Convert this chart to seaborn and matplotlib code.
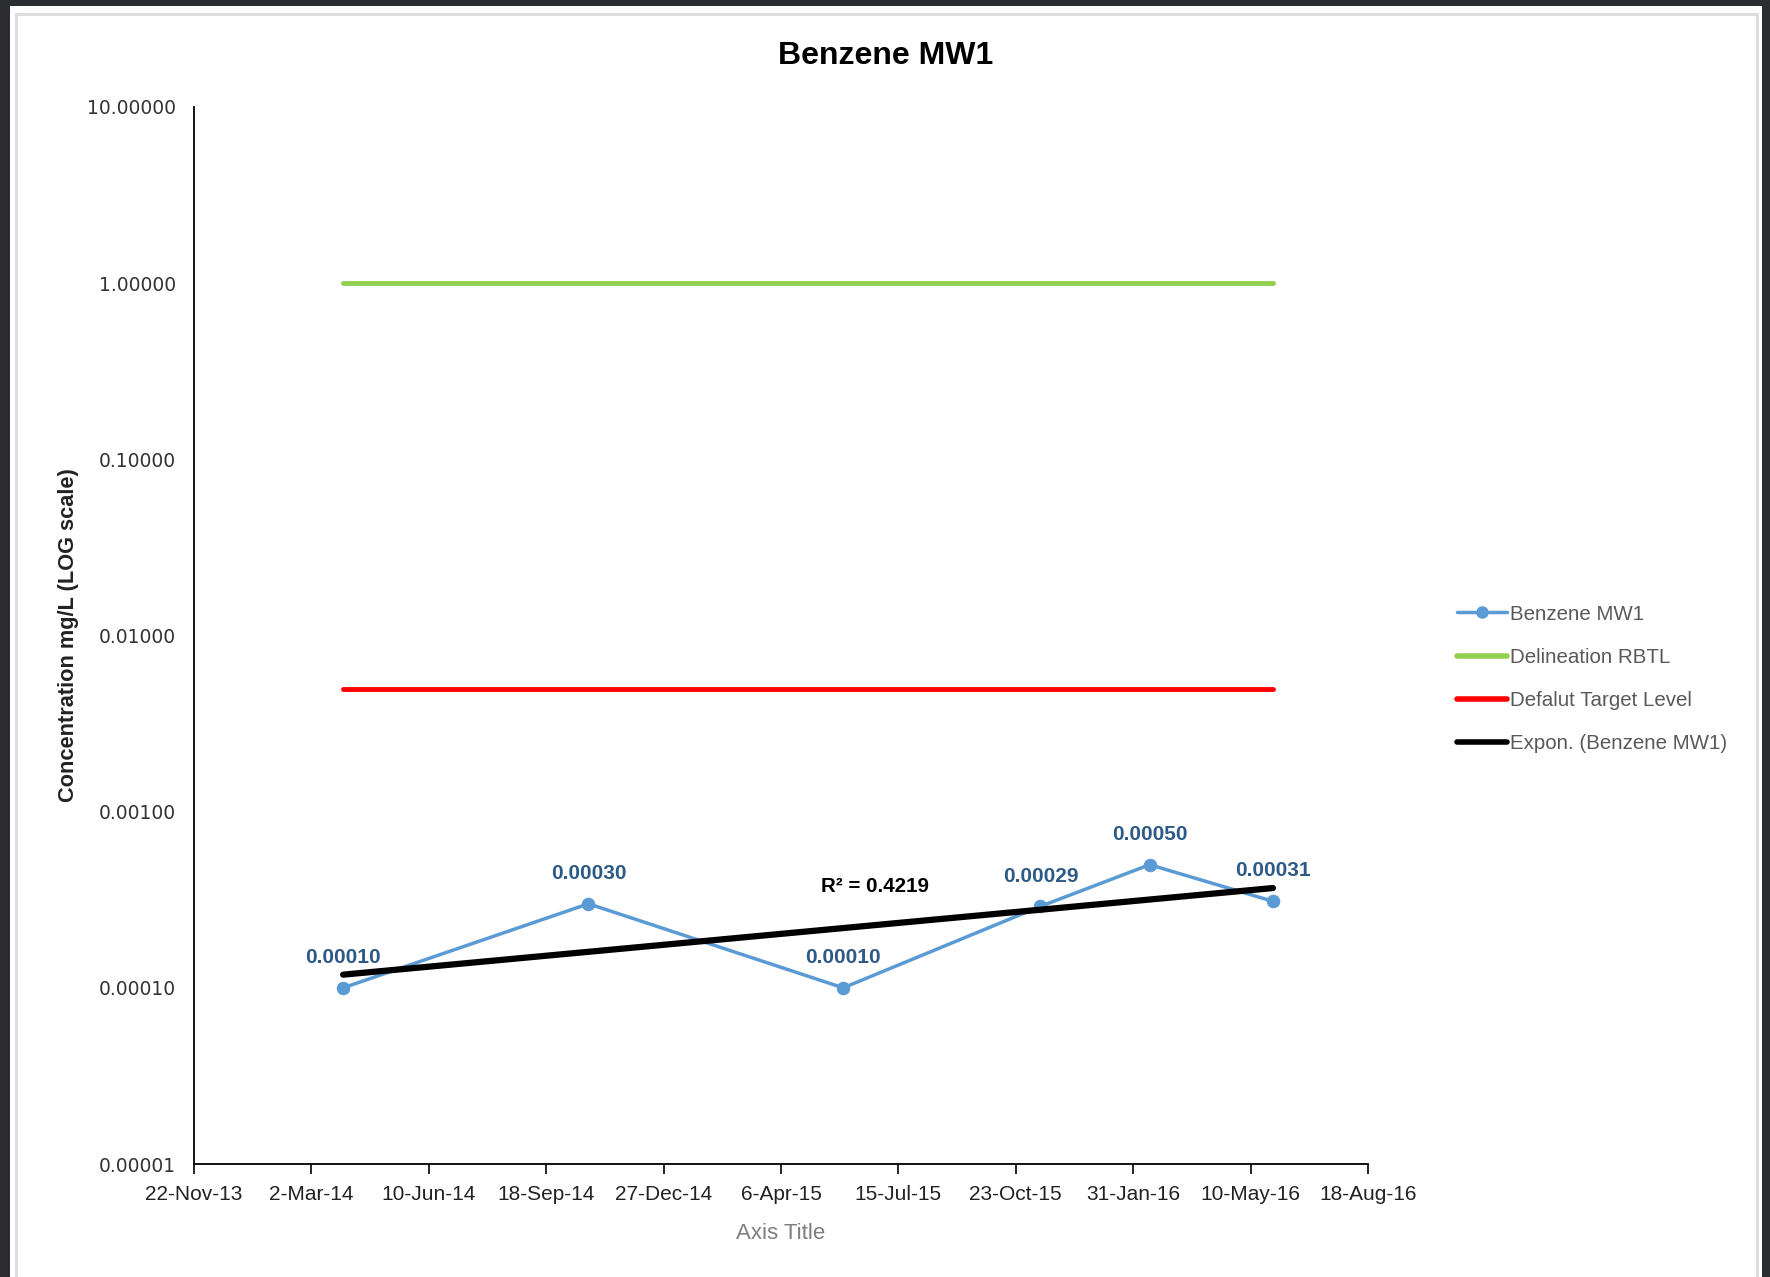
import matplotlib
matplotlib.use("Agg")
import matplotlib.pyplot as plt
import matplotlib.dates as mdates
from matplotlib import font_manager
from matplotlib.lines import Line2D
from matplotlib.patches import Rectangle
from matplotlib.ticker import FixedLocator, FuncFormatter, NullLocator
import seaborn as sns
import numpy as np
import pandas as pd

# data
sample_dates = ["2014-03-29", "2014-10-24", "2015-05-29", "2015-11-13", "2016-02-14", "2016-05-29"]
benzene = [0.00010, 0.00030, 0.00010, 0.00029, 0.00050, 0.00031]
delineation_rbtl = 1.0
default_target = 0.005
r2_label = "R² = 0.4219"
series_names = ["Benzene MW1", "Delineation RBTL", "Defalut Target Level", "Expon. (Benzene MW1)"]
y_ticks = [0.00001, 0.0001, 0.001, 0.01, 0.1, 1.0, 10.0]
x_start, x_end, x_step = "2013-11-22", "2016-08-18", 100

sns.set_theme(style="white")
installed = {f.name for f in font_manager.fontManager.ttflist}
narrow = "Liberation Sans Narrow" if "Liberation Sans Narrow" in installed else "Liberation Sans"
plt.rcParams["font.family"] = [narrow, "DejaVu Sans"]

df = pd.DataFrame({"date": pd.to_datetime(sample_dates), "value": benzene})

# exponential trendline, same as Excel (least squares on ln y)
xnum = mdates.date2num(df["date"])
b, a = np.polyfit(xnum, np.log(df["value"]), 1)
trend = pd.DataFrame({"date": df["date"].iloc[[0, -1]].values})
trend["value"] = np.exp(a + b * mdates.date2num(trend["date"]))

levels = pd.DataFrame({"date": df["date"].iloc[[0, -1]].values,
                       "rbtl": [delineation_rbtl] * 2,
                       "target": [default_target] * 2})

blue = "#5B9BD5"
green = "#92D050"
red = "#FF0000"
label_col = "#2E5A87"

fig = plt.figure(figsize=(17.7, 12.77), dpi=100, facecolor="#2b2d31")
fig.patches.append(Rectangle((10 / 1770, 0), 1752 / 1770, 1 - 6 / 1277, transform=fig.transFigure,
                             facecolor="white", edgecolor="none", zorder=-3))
fig.patches.append(Rectangle((16 / 1770, -0.01), 1741 / 1770, 1.01 - 14 / 1277, transform=fig.transFigure,
                             facecolor="none", edgecolor="#dcdcdc", linewidth=2, zorder=-2))

ax = fig.add_axes([194 / 1770, 1 - 1164 / 1277, (1368 - 194) / 1770, (1164 - 107) / 1277])
ax.set_facecolor("none")
ax.set_zorder(1)

sns.lineplot(data=levels, x="date", y="rbtl", color=green, linewidth=3.5, ax=ax)
sns.lineplot(data=levels, x="date", y="target", color=red, linewidth=3.5, ax=ax)
sns.lineplot(data=df, x="date", y="value", color=blue, linewidth=2.5, marker="o",
             markersize=9, markeredgecolor=blue, ax=ax)
sns.lineplot(data=trend, x="date", y="value", color="black", linewidth=4.5, ax=ax)

for d, v in zip(df["date"], df["value"]):
    ax.annotate(f"{v:.5f}", (d, v), xytext=(0, 15), textcoords="offset points",
                ha="center", va="bottom", fontsize=15, fontweight="bold", color=label_col)

ax.text(pd.Timestamp("2015-06-25"), 0.000375, r2_label, ha="center", va="center",
        fontsize=14.8, fontweight="bold", color="black")

ax.set_yscale("log")
ax.set_ylim(y_ticks[0], y_ticks[-1])
ax.yaxis.set_major_locator(FixedLocator(y_ticks))
ax.yaxis.set_minor_locator(NullLocator())
ax.yaxis.set_major_formatter(FuncFormatter(lambda v, p: f"{v:.5f}"))

x0 = pd.Timestamp(x_start)
x1 = pd.Timestamp(x_end)
xticks = pd.date_range(x0, x1, freq=f"{x_step}D")
ax.set_xlim(x0, x1)
ax.xaxis.set_major_locator(FixedLocator(mdates.date2num(xticks)))
ax.xaxis.set_minor_locator(NullLocator())
ax.xaxis.set_major_formatter(FuncFormatter(
    lambda v, p: f"{mdates.num2date(v).day}-{mdates.num2date(v).strftime('%b-%y')}"))

for lab in ax.get_yticklabels():
    lab.set_fontfamily("DejaVu Sans")
ax.tick_params(axis="y", length=0, pad=13, labelsize=13.5, labelcolor="#333333")
ax.tick_params(axis="x", length=7, width=1.2, color="black", direction="out", pad=8,
               labelsize=15, labelcolor="#222222", bottom=True)

for s in ["top", "right"]:
    ax.spines[s].set_visible(False)
for s in ["left", "bottom"]:
    ax.spines[s].set_color("black")
    ax.spines[s].set_linewidth(1.3)

ax.set_xlabel("Axis Title", fontsize=16, color="#7f7f7f", labelpad=14)
ax.set_ylabel("Concentration mg/L (LOG scale)", fontsize=15.7, fontweight="bold",
              color="#222222", labelpad=6)
fig.text(886 / 1770, 1 - 56 / 1277, "Benzene MW1", ha="center", va="center",
         fontsize=23, fontweight="bold", color="black")

handles = [
    Line2D([], [], color=blue, linewidth=2.5, marker="o", markersize=8),
    Line2D([], [], color=green, linewidth=4),
    Line2D([], [], color=red, linewidth=4),
    Line2D([], [], color="black", linewidth=4),
]
leg = fig.legend(handles, series_names, loc="center left", bbox_to_anchor=(1447 / 1770, 1 - 679 / 1277),
                 frameon=False, fontsize=14.8, handlelength=2.4, handletextpad=0.15,
                 labelspacing=1.18, borderpad=0)
for t in leg.get_texts():
    t.set_color("#595959")

fig.savefig("out.png", dpi=100, facecolor=fig.get_facecolor())
